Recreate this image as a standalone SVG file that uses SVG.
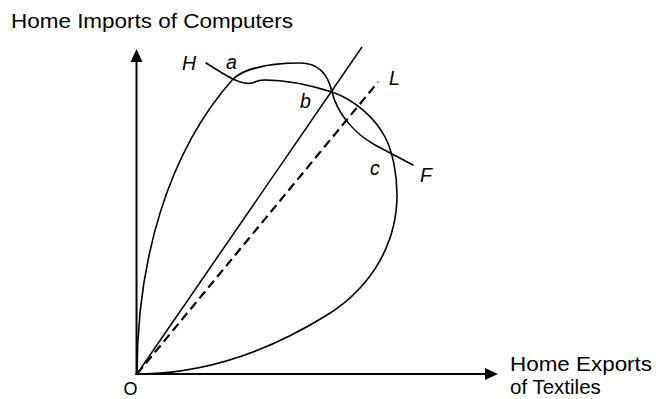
<svg xmlns="http://www.w3.org/2000/svg" width="656" height="399" viewBox="0 0 656 399">
  <style>
    .lbl { font-family: "Liberation Sans", Arial, sans-serif; fill: #000; }
    .it { font-family: "Liberation Sans", Arial, sans-serif; font-style: italic; font-size: 19.5px; fill: #000; }
    .axis { stroke: #000; stroke-width: 2; fill: none; }
    .curve { stroke: #000; stroke-width: 1.6; fill: none; stroke-linecap: round; stroke-linejoin: round; }
    .ray { stroke: #000; stroke-width: 1.5; fill: none; }
    .dash { stroke: #000; stroke-width: 2.2; fill: none; stroke-dasharray: 9 5; }
  </style>
  <rect width="656" height="399" fill="#fff"/>

  <g id="axes">
    <line class="axis" x1="136.5" y1="375" x2="136.5" y2="60"/>
    <polygon points="136.5,49 130.5,62 142.5,62" fill="#000"/>
    <line class="axis" x1="135.5" y1="374" x2="487" y2="374"/>
    <polygon points="498,374 485,368 485,380" fill="#000"/>
  </g>

  <g id="rays">
    <line class="ray" x1="137" y1="374" x2="362" y2="47"/>
    <line class="dash" x1="137" y1="374" x2="378" y2="82"/>
  </g>

  <g id="offer-curves">
    <path id="curve-home" class="curve" d="M137,374 C137,260 168,152 233,79 C243,70 265,63 300,63 C318,63 328,74 332,92 C337,112 352,132 375,145 C390,153 402,159 413,165"/>
    <path id="curve-foreign" class="curve" d="M206,63 C216,69 226,76 235,80 C242,83 248,84 252,83 C256,82 257,80 264,80 C285,80 310,85 332,92 C355,100 375,118 385,137 C393,152 397,175 397,195 C397,240 374.5,285.5 327,315 Q232,374 137,374"/>
  </g>

  <g id="labels">
    <text class="lbl" x="11" y="28" font-size="20" textLength="282" lengthAdjust="spacingAndGlyphs">Home Imports of Computers</text>
    <text class="lbl" x="510" y="371" font-size="21" textLength="142" lengthAdjust="spacingAndGlyphs">Home Exports</text>
    <text class="lbl" x="510" y="394" font-size="20.5">of Textiles</text>
    <text class="lbl" x="130.5" y="395" font-size="18" text-anchor="middle">O</text>
    <text class="it" x="182" y="70">H</text>
    <text class="it" x="226" y="69">a</text>
    <text class="it" x="300" y="108">b</text>
    <text class="it" x="389" y="85">L</text>
    <text class="it" x="370" y="175">c</text>
    <text class="it" x="420" y="182">F</text>
  </g>
</svg>
